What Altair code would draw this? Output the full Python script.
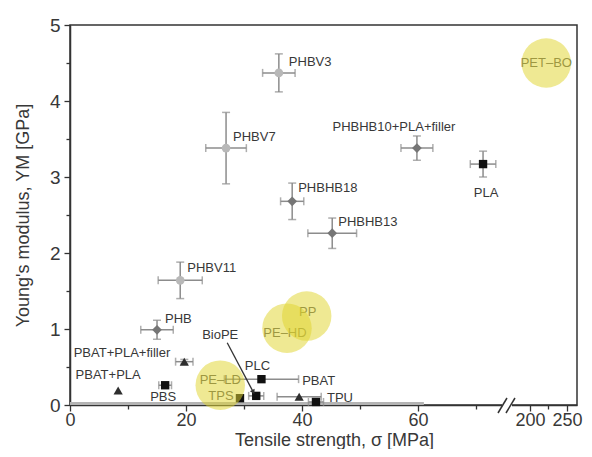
import altair as alt
import pandas as pd

# ---------------- data ----------------
names = ["PHBV3", "PHBV7", "PHBV11", "PHB", "PHBHB18", "PHBHB13",
         "PHBHB10+PLA+filler", "PLA", "PBS", "PLC", "BioPE", "TPS", "TPU",
         "PBAT+PLA", "PBAT+PLA+filler", "PBAT"]
strength = [36.0, 26.9, 19.0, 15.0, 38.3, 45.2, 59.8, 71.2, 16.4, 33.0, 32.1, 29.3, 42.4, 8.3, 19.7, 39.5]
modulus = [4.37, 3.38, 1.64, 0.99, 2.68, 2.26, 3.38, 3.17, 0.26, 0.34, 0.12, 0.09, 0.04, 0.19, 0.57, 0.11]
strength_err = [2.8, 3.5, 3.8, 2.8, 2.0, 4.2, 2.75, 2.2, 1.1, 6.4, 1.3, 0.0, 1.3, 0.0, 1.5, 3.8]
modulus_err = [0.25, 0.47, 0.24, 0.125, 0.24, 0.2, 0.16, 0.17, 0.03, 0.0, 0.03, 0.0, 0.0, 0.0, 0.03, 0.0]
groups = ["PHBV", "PHBV", "PHBV", "PHB", "PHB", "PHB", "PHB",
          "square", "square", "square", "square", "square", "square",
          "PBAT", "PBAT", "PBAT"]

bulk_names = ["PET–BO", "PP", "PE–HD", "PE–LD"]
bulk_strength = [222.0, 40.8, 37.4, 25.9]
bulk_modulus = [4.5, 1.17, 1.01, 0.26]

band_start = [0.0]
band_end = [61.0]
band_level = [0.02]

arrow_from = [27.1, 0.82]
arrow_to = [31.6, 0.17]

x_major = [0, 20, 40, 60, 200, 250]
x_minor = [10, 30, 50, 70, 225]
y_ticks = [0, 0.5, 1, 1.5, 2, 2.5, 3, 3.5, 4, 4.5, 5]

# label placement (style: pixel offsets, alignment)
label_style = {
    "PHBV3": (10, -11, "left"),
    "PHBV7": (7, -11, "left"),
    "PHBV11": (7, -12, "left"),
    "PHB": (8, -11, "left"),
    "PHBHB18": (6, -13, "left"),
    "PHBHB13": (6, -11, "left"),
    "PHBHB10+PLA+filler": (-23, -21, "center"),
    "PLA": (3, 29, "center"),
    "PBS": (-2, 12, "center"),
    "PLC": (-4, -13, "center"),
    "BioPE": (-36, -61, "center"),
    "TPS": (-19, -2, "center"),
    "TPU": (11, -4, "left"),
    "PBAT+PLA": (-10, -16, "center"),
    "PBAT+PLA+filler": (-14, -9, "right"),
    "PBAT": (3, -16, "left"),
}
bulk_style = {"PET–BO": (0, 0), "PP": (1, -4), "PE–HD": (-2, 5), "PE–LD": (0, -5)}

df = pd.DataFrame({"name": names, "s": strength, "m": modulus,
                   "se": strength_err, "me": modulus_err, "g": groups})
bulk = pd.DataFrame({"name": bulk_names, "s": bulk_strength, "m": bulk_modulus})
band = pd.DataFrame({"s": band_start, "s2": band_end, "m": band_level})
arrow = pd.DataFrame({"s": [arrow_from[0]], "m": [arrow_from[1]],
                      "s2": [arrow_to[0]], "m2": [arrow_to[1]]})

# ---------------- scales / axes ----------------
FONT = "Liberation Sans"
TXT = "#383838"
major_list = "[" + ",".join(str(v) for v in x_major) + "]"

PLOT_W = 507
xscale = alt.Scale(domain=[0, 75.5, 170.3, 263.5], range=[0, 438, 438, PLOT_W], nice=False, zero=False)
yscale = alt.Scale(domain=[0, 5], nice=False, zero=False)

xaxis = alt.Axis(
    values=sorted(x_major + x_minor),
    labelExpr=f"indexof({major_list}, datum.value) >= 0 ? datum.value + '' : ''",
    tickSize={"condition": {"test": f"indexof({major_list}, datum.value) >= 0", "value": 6}, "value": 4},
    title="Tensile strength, σ [MPa]",
    grid=False, labelFlush=False, labelOverlap=False,
    labelFontSize=18, titleFontSize=18, labelPadding=0, titlePadding=2,
    titleX=264, titleAnchor="start", titleAlign="center",
)
yaxis = alt.Axis(
    values=y_ticks,
    labelExpr="datum.value % 1 === 0 ? format(datum.value, 'd') : ''",
    tickSize={"condition": {"test": "datum.value % 1 === 0", "value": 6}, "value": 4},
    title="Young's modulus, YM [GPa]",
    grid=False, labelFlush=False, labelOverlap=False,
    labelFontSize=19, titleFontSize=18, labelPadding=4, titlePadding=17,
)


def X(field):
    return alt.X(field, type="quantitative", scale=xscale, axis=xaxis)


def Y(field):
    return alt.Y(field, type="quantitative", scale=yscale, axis=yaxis)


ERR = "#8c8c8c"
base = alt.Chart(df)

layers = []

# baseline band
layers.append(alt.Chart(band).mark_rule(color="#b4b4b4", strokeWidth=3).encode(
    x=X("s"), x2="s2", y=Y("m")))

# horizontal error bars
xe = base.transform_filter("datum.se > 0").transform_calculate(
    lo="datum.s - datum.se", hi="datum.s + datum.se")
layers.append(xe.mark_rule(color=ERR, strokeWidth=1.5).encode(x=X("lo:Q"), x2="hi:Q", y=Y("m")))
layers.append(xe.mark_tick(color=ERR, orient="vertical", size=8, thickness=1.5).encode(x=X("lo:Q"), y=Y("m")))
layers.append(xe.mark_tick(color=ERR, orient="vertical", size=8, thickness=1.5).encode(x=X("hi:Q"), y=Y("m")))

# vertical error bars
ye = base.transform_filter("datum.me > 0").transform_calculate(
    lo="datum.m - datum.me", hi="datum.m + datum.me")
layers.append(ye.mark_rule(color=ERR, strokeWidth=1.5).encode(x=X("s"), y=Y("lo:Q"), y2="hi:Q"))
layers.append(ye.mark_tick(color=ERR, orient="horizontal", size=8, thickness=1.5).encode(x=X("s"), y=Y("lo:Q")))
layers.append(ye.mark_tick(color=ERR, orient="horizontal", size=8, thickness=1.5).encode(x=X("s"), y=Y("hi:Q")))

# points
styles = {
    "PHBV": dict(shape="circle", color="#b8b8b8", size=75),
    "PHB": dict(shape="diamond", color="#767676", size=95),
    "square": dict(shape="square", color="#111111", size=70),
    "PBAT": dict(shape="triangle-up", color="#2e2e2e", size=85),
}
for g, st in styles.items():
    layers.append(base.transform_filter(alt.datum.g == g).mark_point(
        filled=True, opacity=1, strokeWidth=0, **st).encode(x=X("s"), y=Y("m")))

# BioPE arrow
layers.append(alt.Chart(arrow).mark_rule(color="#333333", strokeWidth=1.3).encode(
    x=X("s"), y=Y("m"), x2="s2", y2="m2"))
layers.append(alt.Chart(arrow).mark_point(shape="triangle-up", filled=True, color="#333333",
                                          size=28, angle=152, opacity=1).encode(x=X("s2"), y=Y("m2")))

# point labels
for nm, (dx, dy, al) in label_style.items():
    col = "#555555" if nm == "TPS" else TXT
    layers.append(base.transform_filter(alt.datum.name == nm).mark_text(
        font=FONT, fontSize=13, color=col, dx=dx, dy=dy, align=al, baseline="middle").encode(
        x=X("s"), y=Y("m"), text="name:N"))

# bulk plastic labels (under circles)
for nm, (dx, dy) in bulk_style.items():
    layers.append(alt.Chart(bulk).transform_filter(alt.datum.name == nm).mark_text(
        font=FONT, fontSize=13, color="#555555", dx=dx, dy=dy, align="center", baseline="middle").encode(
        x=X("s"), y=Y("m"), text="name:N"))

# bulk plastic circles
layers.append(alt.Chart(bulk).mark_circle(color="#e0d430", opacity=0.52, size=2450).encode(
    x=X("s"), y=Y("m")))

# axis break marks (decoration)
layers.append(alt.Chart(band).mark_rule(color="white", strokeWidth=4).encode(
    x=alt.value(432), x2=alt.value(442), y=alt.value(380)))
layers.append(alt.Chart(band).mark_rule(color="#333333", strokeWidth=1.5).encode(
    x=alt.value(428), x2=alt.value(437), y=alt.value(388), y2=alt.value(373)))
layers.append(alt.Chart(band).mark_rule(color="#333333", strokeWidth=1.5).encode(
    x=alt.value(436), x2=alt.value(445), y=alt.value(388), y2=alt.value(373)))

chart = alt.layer(*layers).properties(
    width=PLOT_W, height=380,
    autosize=alt.AutoSizeParams(type="none"),
    padding={"left": 62, "top": 17, "right": 7, "bottom": 44},
).configure_view(
    stroke="#333333", strokeWidth=1.5
).configure_axis(
    domainColor="#333333", domainWidth=1.5, tickColor="#333333", tickWidth=1.3,
    labelColor=TXT, titleColor=TXT, labelFont=FONT, titleFont=FONT, titleFontWeight="normal",
)

chart.save("out.html", embed_options={"renderer": "svg", "actions": False})
